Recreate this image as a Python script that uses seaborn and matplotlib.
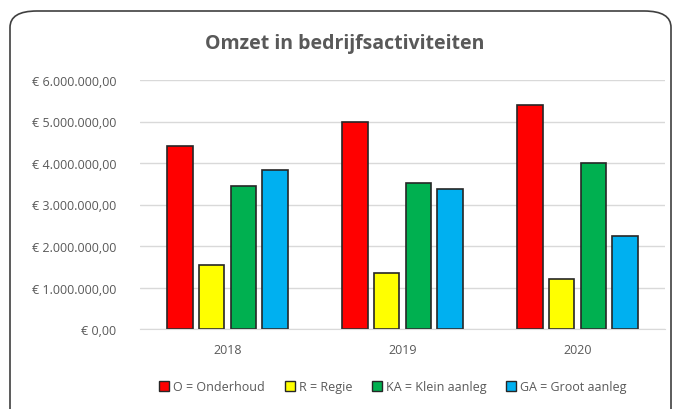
import pandas as pd
import seaborn as sns
import matplotlib.pyplot as plt
from matplotlib.patches import FancyBboxPatch, Patch
from matplotlib.ticker import FuncFormatter

years = ['2018', '2019', '2020']
series = ['O = Onderhoud', 'R = Regie', 'KA = Klein aanleg', 'GA = Groot aanleg']
onderhoud = [4400000, 4990000, 5400000]
regie = [1540000, 1340000, 1200000]
klein_aanleg = [3450000, 3520000, 3990000]
groot_aanleg = [3820000, 3380000, 2250000]
colors = ['#FF0000', '#FFFF00', '#00B050', '#00B0F0']

rows = []
for name, vals in zip(series, [onderhoud, regie, klein_aanleg, groot_aanleg]):
    for y, v in zip(years, vals):
        rows.append({'jaar': y, 'serie': name, 'omzet': v})
df = pd.DataFrame(rows)

sns.set_style('white')
plt.rcParams['font.family'] = ['Open Sans', 'DejaVu Sans']
grey = '#595959'

fig = plt.figure(figsize=(6.73, 4.10), dpi=100)
fig.patches.append(FancyBboxPatch((10 / 673, -0.05), 661 / 673, 1 - 12 / 410 + 0.05,
                                  boxstyle='round,pad=0,rounding_size=0.04',
                                  transform=fig.transFigure, fill=False,
                                  edgecolor='#404040', linewidth=1.2))
ax = fig.add_axes([140 / 673, 1 - 330 / 410, 525 / 673, 249 / 410])

sns.barplot(data=df, x='jaar', y='omzet', hue='serie', palette=colors, saturation=1,
            width=0.73, gap=0.19, edgecolor='#262626', linewidth=1.2,
            legend=False, ax=ax)

ax.set_ylim(0, 6000000)
ax.set_yticks(range(0, 6000001, 1000000))

def euro(v, pos):
    s = f'{v:,.2f}'.replace(',', 'X').replace('.', ',').replace('X', '.')
    return '€ ' + s

ax.yaxis.set_major_formatter(FuncFormatter(euro))
ax.grid(axis='y', color='#D9D9D9', linewidth=1)
ax.set_axisbelow(True)
for s in ['top', 'right', 'left']:
    ax.spines[s].set_visible(False)
ax.spines['bottom'].set_color('#D9D9D9')
ax.tick_params(axis='both', length=0, colors=grey, labelsize=9)
ax.tick_params(axis='y', pad=17)
ax.tick_params(axis='x', pad=10)
ax.set_xlabel('')
ax.set_ylabel('')

fig.text(345 / 673, 1 - 44 / 410, 'Omzet in bedrijfsactiviteiten', ha='center', va='center',
         fontsize=14, fontweight='bold', color=grey)

handles = [Patch(facecolor=c, edgecolor='#262626', linewidth=1) for c in colors]
fig.legend(handles, series, loc='center', bbox_to_anchor=(393 / 673, 1 - 388 / 410),
           ncol=4, frameon=False, fontsize=9, labelcolor=grey,
           handlelength=0.8, handleheight=0.8, handletextpad=0.3, columnspacing=1.6)

fig.savefig('out.png', dpi=100)
